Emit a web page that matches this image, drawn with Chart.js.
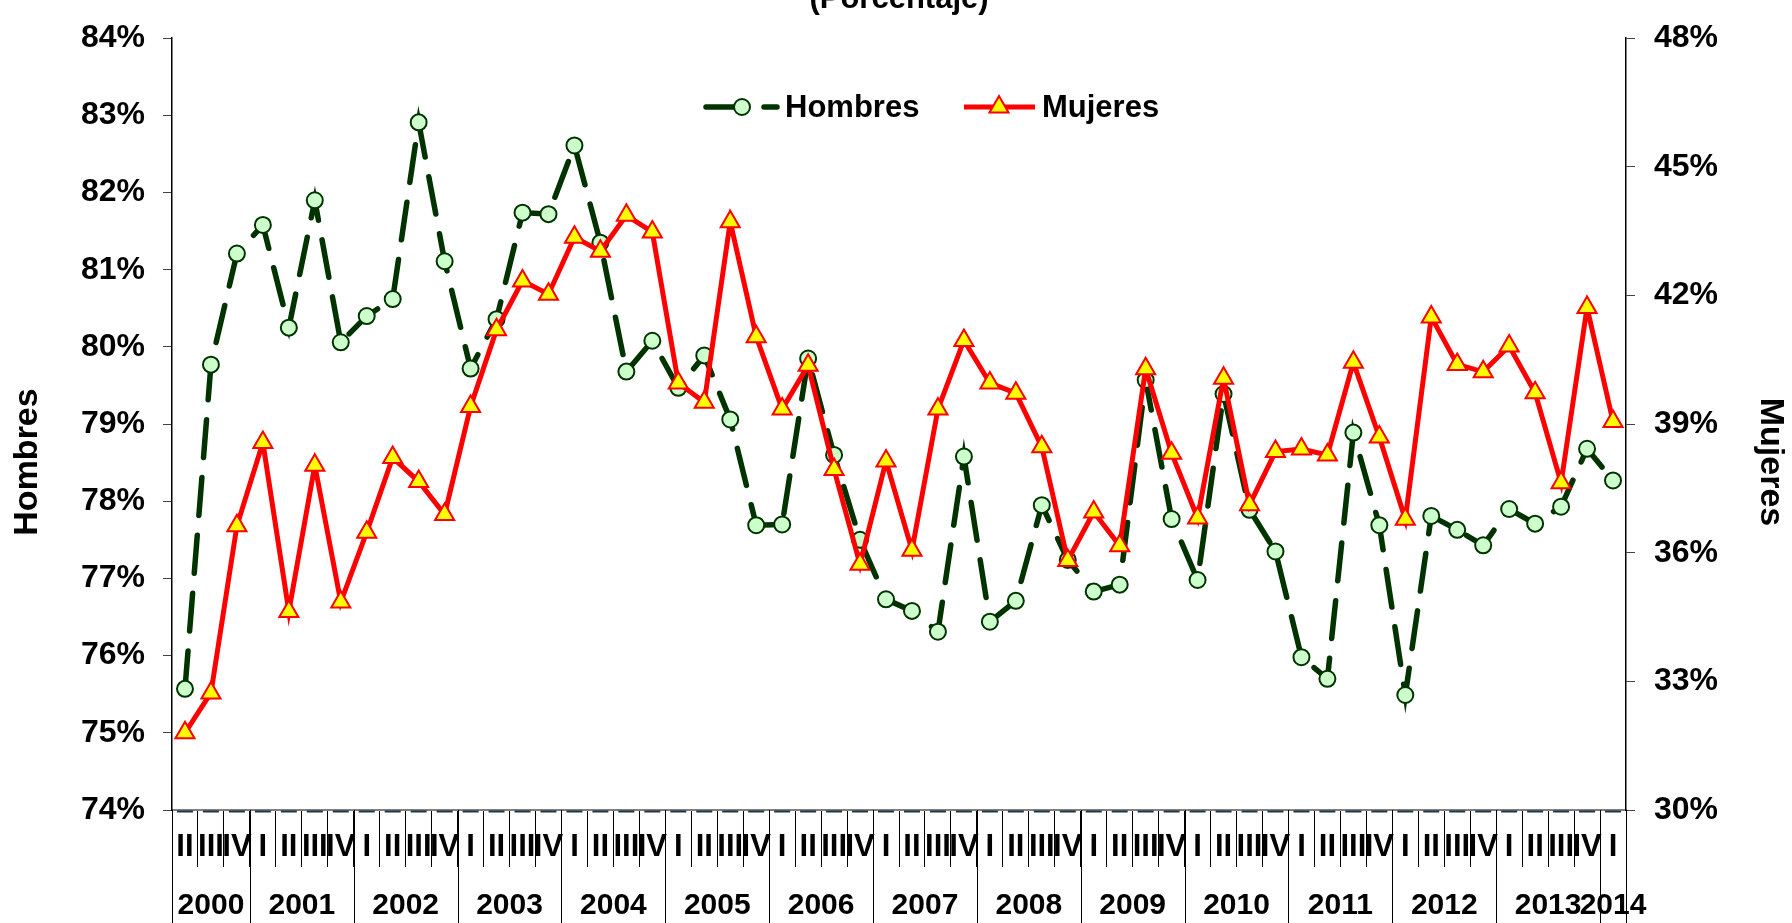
<!DOCTYPE html>
<html>
<head>
<meta charset="utf-8">
<script src="https://cdn.jsdelivr.net/npm/chart.js@4/dist/chart.umd.min.js"></script>
<style>
  body { margin: 0; background: #fff; }
  canvas { display: block; }
</style>
</head>
<body>
<canvas id="grafica" width="1792" height="923"></canvas>
<script>
// trimestres, del II-2000 al I-2014
let trimestres = [
  "II", "III", "IV",
  "I", "II", "III", "IV",
  "I", "II", "III", "IV",
  "I", "II", "III", "IV",
  "I", "II", "III", "IV",
  "I", "II", "III", "IV",
  "I", "II", "III", "IV",
  "I", "II", "III", "IV",
  "I", "II", "III", "IV",
  "I", "II", "III", "IV",
  "I", "II", "III", "IV",
  "I", "II", "III", "IV",
  "I", "II", "III", "IV",
  "I", "II", "III", "IV",
  "I"
];
let anios = ["2000", "2001", "2002", "2003", "2004", "2005", "2006", "2007",
             "2008", "2009", "2010", "2011", "2012", "2013", "2014"];
let trimestresPorAnio = [3, 4, 4, 4, 4, 4, 4, 4, 4, 4, 4, 4, 4, 4, 1];

let hombres = [
  75.57, 79.77, 81.21, 81.58, 80.25, 81.90, 80.06, 80.40, 80.62, 82.91,
  81.11, 79.72, 80.36, 81.74, 81.72, 82.61, 81.35, 79.68, 80.08, 79.47,
  79.89, 79.06, 77.69, 77.70, 79.85, 78.60, 77.50, 76.73, 76.58, 76.31,
  78.58, 76.44, 76.71, 77.95, 77.24, 76.83, 76.92, 79.57, 77.77, 76.98,
  79.39, 77.89, 77.35, 75.98, 75.70, 78.89, 77.69, 75.49, 77.81, 77.63,
  77.43, 77.90, 77.71, 77.93, 78.68, 78.27
];
let mujeres = [
  31.80, 32.73, 36.63, 38.57, 34.63, 38.04, 34.85, 36.48, 38.22, 37.66,
  36.89, 39.41, 41.20, 42.34, 42.03, 43.36, 43.03, 43.87, 43.48, 39.96,
  39.51, 43.72, 41.04, 39.35, 40.37, 37.94, 35.73, 38.14, 36.06, 39.35,
  40.95, 39.96, 39.72, 38.47, 35.82, 36.95, 36.16, 40.29, 38.32, 36.81,
  40.07, 37.12, 38.36, 38.42, 38.28, 40.44, 38.70, 36.78, 41.50, 40.39,
  40.22, 40.82, 39.73, 37.63, 41.72, 39.06
];

let fuente = "'Liberation Sans', Arial, sans-serif";
Chart.defaults.font.family = fuente;
Chart.defaults.color = "#000";

// titulo, ejes, años y leyenda dibujados a mano
let extras = {
  id: "extras",
  afterDraw(chart) {
    let ctx = chart.ctx;
    let area = chart.chartArea;
    let x = chart.scales.x;
    let alto = chart.height;
    let medio = (x.getPixelForValue(1) - x.getPixelForValue(0)) / 2;
    ctx.save();

    // rayitas oscuras bajo el eje
    ctx.strokeStyle = "#1f3644";
    ctx.lineWidth = 2;
    for (let i = 0; i < trimestres.length; i++) {
      let px = x.getPixelForValue(i);
      ctx.beginPath();
      ctx.moveTo(px - 8, area.bottom + 1.5);
      ctx.lineTo(px + 8, area.bottom + 1.5);
      ctx.stroke();
    }

    // separadores y etiquetas de años
    ctx.strokeStyle = "#000";
    ctx.lineWidth = 1;
    ctx.fillStyle = "#000";
    ctx.font = "bold 30px " + fuente;
    ctx.textAlign = "center";
    ctx.textBaseline = "middle";
    let ini = 0;
    anios.forEach((a, k) => {
      let fin = ini + trimestresPorAnio[k] - 1;
      let x0 = Math.round(x.getPixelForValue(ini) - medio) + 0.5;
      let x1 = Math.round(x.getPixelForValue(fin) + medio) + 0.5;
      ctx.beginPath();
      ctx.moveTo(x0, area.bottom);
      ctx.lineTo(x0, alto);
      ctx.moveTo(x1, area.bottom);
      ctx.lineTo(x1, alto);
      ctx.stroke();
      let cx = (x.getPixelForValue(ini) + x.getPixelForValue(fin)) / 2;
      ctx.fillText(a, cx, 906);
      ini = fin + 1;
    });

    // titulo cortado arriba
    ctx.textBaseline = "alphabetic";
    ctx.font = "bold 31px " + fuente;
    ctx.fillText("(Porcentaje)", (area.left + area.right) / 2, 8);

    // titulos de los ejes
    ctx.font = "bold 34px " + fuente;
    ctx.textBaseline = "middle";
    ctx.save();
    ctx.translate(28, 462);
    ctx.rotate(-Math.PI / 2);
    ctx.fillText("Hombres", 0, 0);
    ctx.restore();
    ctx.save();
    ctx.translate(1770, 462);
    ctx.rotate(Math.PI / 2);
    ctx.fillText("Mujeres", 0, 0);
    ctx.restore();

    // leyenda
    let ly = 107;
    chart.data.datasets.forEach((ds, k) => {
      let pos = k === 0 ? [706, 777, 742, 785] : [964, 1035, 999, 1042];
      ctx.save();
      ctx.strokeStyle = ds.borderColor;
      ctx.lineWidth = ds.borderWidth;
      ctx.lineCap = ds.borderCapStyle || "butt";
      ctx.setLineDash(ds.borderDash || []);
      ctx.beginPath();
      ctx.moveTo(pos[0], ly);
      ctx.lineTo(pos[1], ly);
      ctx.stroke();
      ctx.restore();
      ctx.fillStyle = ds.pointBackgroundColor;
      ctx.strokeStyle = ds.pointBorderColor;
      ctx.lineWidth = ds.pointBorderWidth;
      Chart.helpers.drawPoint(ctx, {
        pointStyle: ds.pointStyle, radius: ds.pointRadius,
        borderWidth: ds.pointBorderWidth, rotation: 0
      }, pos[2], ly);
      ctx.fillStyle = "#000";
      ctx.textAlign = "left";
      ctx.font = "bold 31px " + fuente;
      ctx.fillText(ds.label, pos[3], ly + 1);
    });
    ctx.restore();
  }
};

let contexto = document.getElementById("grafica").getContext("2d");
let grafica = new Chart(contexto, {
  type: "line",
  data: {
    labels: trimestres,
    datasets: [
      {
        label: "Hombres",
        data: hombres,
        yAxisID: "y",
        order: 2,
        borderColor: "#003300",
        borderWidth: 5.5,
        borderDash: [38, 20],
        borderCapStyle: "round",
        pointStyle: "circle",
        pointRadius: 8,
        pointBorderWidth: 2,
        pointBackgroundColor: "#ccffcc",
        pointBorderColor: "#003300",
        tension: 0
      },
      {
        label: "Mujeres",
        data: mujeres,
        yAxisID: "y1",
        order: 1,
        borderColor: "#ff0000",
        borderWidth: 5,
        pointStyle: "triangle",
        pointRadius: 11,
        pointBorderWidth: 2,
        pointBackgroundColor: "#ffff00",
        pointBorderColor: "#ff0000",
        tension: 0
      }
    ]
  },
  options: {
    responsive: false,
    animation: false,
    devicePixelRatio: 1,
    layout: { padding: { top: 25, left: 0, right: 0, bottom: 0 } },
    plugins: {
      legend: { display: false },
      title: { display: false },
      tooltip: { enabled: false }
    },
    scales: {
      x: {
        offset: true,
        afterFit(s) { s.height = 113; },
        grid: { offset: true, drawOnChartArea: false, tickLength: 57, color: "#000", lineWidth: 1 },
        border: { color: "#808080", width: 2 },
        ticks: {
          autoSkip: false, maxRotation: 0, minRotation: 0, padding: -38,
          font: { size: 31, weight: "bold" }
        }
      },
      y: {
        position: "left",
        min: 74, max: 84,
        afterFit(s) { s.width = 172; },
        grid: { drawOnChartArea: false, tickLength: 9, color: "#444" },
        border: { color: "#000", width: 1.5 },
        ticks: {
          stepSize: 1, padding: 18,
          font: { size: 32, weight: "bold" },
          callback: v => v + "%"
        }
      },
      y1: {
        position: "right",
        min: 30, max: 48,
        afterFit(s) { s.width = 166; },
        grid: { drawOnChartArea: false, tickLength: 9, color: "#444" },
        border: { color: "#000", width: 1.5 },
        ticks: {
          stepSize: 3, padding: 19,
          font: { size: 32, weight: "bold" },
          callback: v => v + "%"
        }
      }
    }
  },
  plugins: [extras]
});
</script>
</body>
</html>
